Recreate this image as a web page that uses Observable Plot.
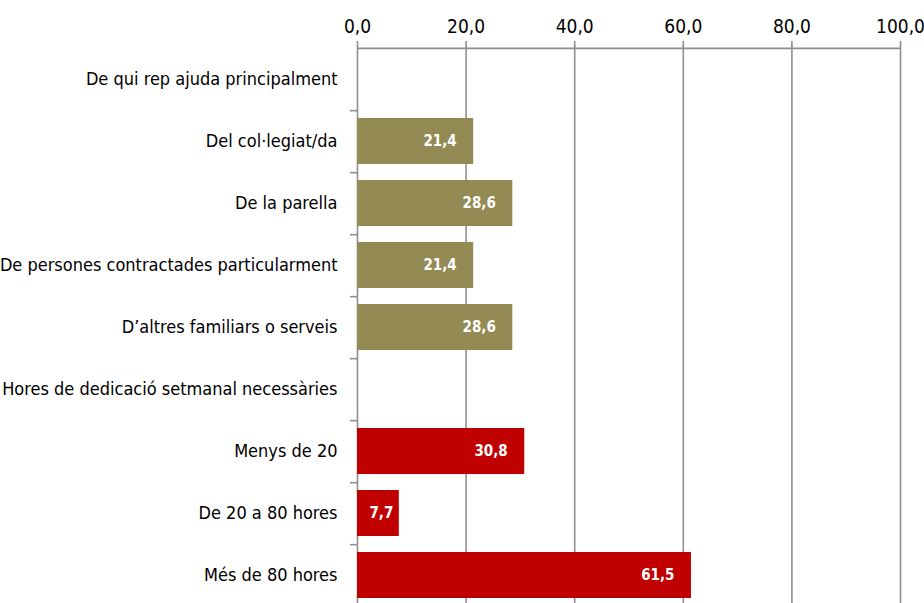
<!DOCTYPE html>
<html>
<head>
<meta charset="utf-8">
<script src="https://cdn.jsdelivr.net/npm/d3@7"></script>
<script src="https://cdn.jsdelivr.net/npm/@observablehq/plot@0.6"></script>
<style>
  html, body { margin: 0; padding: 0; background: #fff; }
  #chart svg { font-family: "Liberation Sans Narrow", "Arial Narrow", "DejaVu Sans Condensed", sans-serif; }
</style>
</head>
<body>
<div id="chart"></div>
<script>
const categories = [
  "De qui rep ajuda principalment",
  "Del col·legiat/da",
  "De la parella",
  "De persones contractades particularment",
  "D’altres familiars o serveis",
  "Hores de dedicació setmanal necessàries",
  "Menys de 20",
  "De 20 a 80 hores",
  "Més de 80 hores"
];
const values = [null, 21.4, 28.6, 21.4, 28.6, null, 30.8, 7.7, 61.5];
const groups = ["ajuda", "ajuda", "ajuda", "ajuda", "ajuda", "hores", "hores", "hores", "hores"];
const xTicks = [0, 20, 40, 60, 80, 100];
const colors = {ajuda: "#948A54", hores: "#C00000"};

const data = categories.map((c, i) => ({category: c, value: values[i], group: groups[i]}));
const bars = data.filter(d => d.value != null);
const fmt = v => d3.format(".1f")(v).replace(".", ",");

const W = 924, H = 603, mTop = 46, mBottom = -4, mLeft = 357, mRight = 24;
const step = (H - mTop - mBottom) / categories.length;
const gray = "#8f8f8f";
const labelStyle = {y: "category", x: "value", text: d => fmt(d.value), textAnchor: "end", fill: "white", fontWeight: "bold", fontSize: 15};

const chart = Plot.plot({
  width: W,
  height: H,
  marginTop: mTop,
  marginBottom: mBottom,
  marginLeft: mLeft,
  marginRight: mRight,
  style: {fontSize: "18px", color: "#000", background: "#fff", overflow: "visible"},
  x: {domain: [0, 100], label: null},
  y: {domain: categories, paddingInner: 0.26, paddingOuter: 0.13, label: null},
  marks: [
    Plot.ruleX(xTicks.filter(t => t > 0), {x: d => d, stroke: gray, strokeWidth: 1.6}),
    Plot.ruleX([0], {stroke: gray, strokeWidth: 1.6}),
    Plot.ruleY(categories, {y: d => d, x1: -1.3, x2: 0, dy: step / 2, stroke: gray, strokeWidth: 1.6}),
    Plot.barX(bars, {y: "category", x: "value", fill: d => colors[d.group]}),
    Plot.text(bars.filter(d => d.value >= 10), {...labelStyle, dx: -17}),
    Plot.text(bars.filter(d => d.value < 10), {...labelStyle, dx: -6}),
    Plot.axisX({anchor: "top", ticks: xTicks, tickFormat: fmt, tickSize: 6, tickPadding: 8, stroke: gray, strokeWidth: 1.6, fontSize: 19, label: null}),
    Plot.axisY({anchor: "left", tickSize: 0, tickPadding: 20, fontSize: 18, label: null}),
    Plot.ruleY([categories[0]], {x1: 0, x2: 100, dy: -step / 2, stroke: gray, strokeWidth: 1.6})
  ]
});
document.getElementById("chart").appendChild(chart);
</script>
</body>
</html>
